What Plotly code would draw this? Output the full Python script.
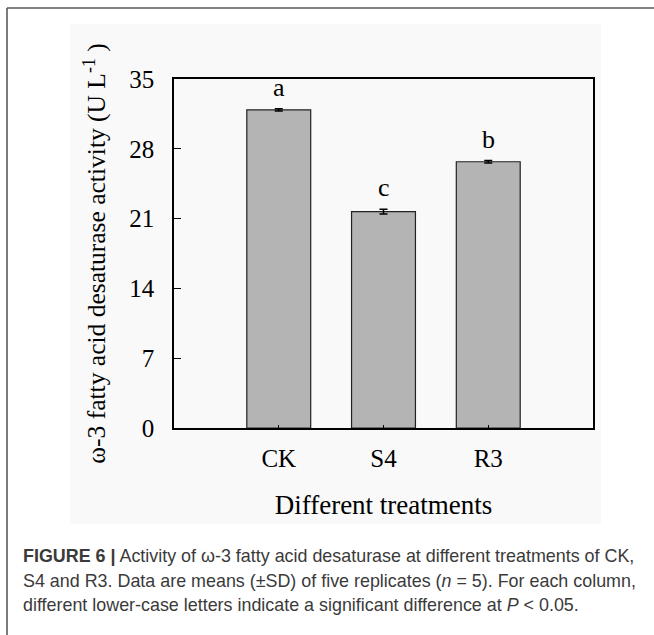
import plotly.graph_objects as go

categories = ["CK", "S4", "R3"]
means = [31.9, 21.7, 26.7]
sds = [0.12, 0.25, 0.12]
letters = ["a", "c", "b"]
y_ticks = [0, 7, 14, 21, 28, 35]

W, H = 654, 635
L, R, T, B = 174, 593, 79, 428  # plot-area pixel edges


def px(x):
    return (x - L) / (R - L)


def py(y):
    return (B - y) / (B - T)


serif = "Liberation Serif"
sans = "Liberation Sans"

fig = go.Figure()
fig.add_trace(go.Bar(
    x=categories, y=means, width=0.61,
    marker=dict(color="#b4b4b4", line=dict(color="#222222", width=1.2)),
    error_y=dict(type="data", array=sds, visible=True, color="#000000",
                 thickness=1.5, width=4),
    showlegend=False,
))

annotations = []
for c, m, s, t in zip(categories, means, sds, letters):
    annotations.append(dict(x=c, y=m + s, xref="x", yref="y", text=t,
                            showarrow=False, yanchor="bottom", yshift=5,
                            font=dict(family=serif, size=26, color="#000")))

caption = [
    "<b>FIGURE 6 |</b> Activity of ω-3 fatty acid desaturase at different treatments of CK,",
    "S4 and R3. Data are means (±SD) of five replicates (<i>n</i> = 5). For each column,",
    "different lower-case letters indicate a significant difference at <i>P</i> &lt; 0.05.",
]
caption_y = [556, 581, 605]
for line, yy in zip(caption, caption_y):
    annotations.append(dict(x=px(21), y=py(yy), xref="paper", yref="paper",
                            text=line, showarrow=False, xanchor="left",
                            yanchor="middle",
                            font=dict(family=sans, size=17.9, color="#3a3a3a")))

shapes = [
    # light grey figure panel
    dict(type="rect", xref="paper", yref="paper", x0=px(70), x1=px(601),
         y0=py(524), y1=py(24), fillcolor="#f9f9f9", line=dict(width=0),
         layer="below"),
    # frame lines
    dict(type="line", xref="paper", yref="paper", x0=px(7), x1=px(660),
         y0=py(8), y1=py(8), line=dict(color="#5a5a5a", width=1.6)),
    dict(type="line", xref="paper", yref="paper", x0=px(7), x1=px(7),
         y0=py(8), y1=py(640), line=dict(color="#5a5a5a", width=1.6)),
]

fig.update_layout(
    width=W, height=H,
    margin=dict(l=L, r=W - R, t=T, b=H - B, pad=0),
    paper_bgcolor="white",
    plot_bgcolor="rgba(0,0,0,0)",
    font=dict(family=serif, color="#000"),
    annotations=annotations,
    shapes=shapes,
    bargap=0.39,
)
fig.update_xaxes(
    range=[-1, 3], showline=True, linecolor="#000", linewidth=1.5, mirror=True,
    ticks="inside", ticklen=3, tickcolor="#000", tickwidth=1,
    tickfont=dict(family=serif, size=25, color="#000"),
    ticklabelstandoff=7,
    title=dict(text="Different treatments", standoff=24,
               font=dict(family=serif, size=27, color="#000")),
    showgrid=False, zeroline=False,
)
fig.update_yaxes(
    range=[0, 35], tickvals=y_ticks, showline=True, linecolor="#000",
    linewidth=1.5, mirror=True,
    ticks="inside", ticklen=7, tickcolor="#000", tickwidth=1,
    tickfont=dict(family=serif, size=25, color="#000"),
    ticklabelstandoff=13,
    title=dict(text="ω-3 fatty acid desaturase activity (U L<sup>-1</sup> )",
               standoff=16, font=dict(family=serif, size=25.5, color="#000")),
    showgrid=False, zeroline=False,
)

fig.write_html("out.html")
